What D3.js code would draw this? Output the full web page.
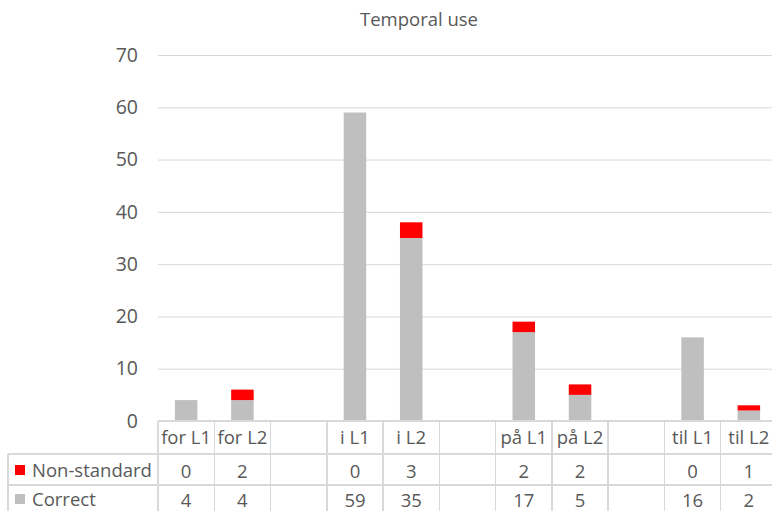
<!DOCTYPE html>
<html><head><meta charset="utf-8">
<script src="https://cdn.jsdelivr.net/npm/d3@7"></script>
<style>body{margin:0;background:#fff}svg{display:block;font-family:"Open Sans",sans-serif}</style>
</head><body>
<svg id="c" width="772" height="511"></svg>
<script>
const title = "Temporal use";
const categories = ["for L1","for L2","","i L1","i L2"," ","på L1","på L2","  ","til L1","til L2"];
const labels = ["for L1","for L2","","i L1","i L2","","på L1","på L2","","til L1","til L2"];
const correct = [4,4,null,59,35,null,17,5,null,16,2];
const nonStandard = [0,2,null,0,3,null,2,2,null,0,1];
const seriesNames = ["Non-standard","Correct"];
const colors = {"Non-standard":"#ff0000","Correct":"#bfbfbf"};
const yTicks = [0,10,20,30,40,50,60,70];

(function(){
const svg = d3.select("#c");
const pL = 158, pR = 777, pT = 55, pB = 421;
const txt = "#595959", grid = "#d9d9d9";
const fs = 18.5;

const x = d3.scaleBand().domain(categories).range([pL,pR]).paddingInner(0.6).paddingOuter(0.3);
const xc = d3.scaleBand().domain(categories).range([pL,pR]).padding(0);
const y = d3.scaleLinear().domain([0,70]).range([pB,pT]);

svg.append("text").attr("x",419).attr("y",26).attr("text-anchor","middle")
  .attr("fill",txt).attr("font-size",fs).text(title);

svg.append("g").selectAll("line").data(yTicks.filter(d=>d>0)).join("line")
  .attr("x1",pL).attr("x2",pR).attr("y1",d=>y(d)+0.5).attr("y2",d=>y(d)+0.5)
  .attr("stroke",grid).attr("stroke-width",1);

const ya = svg.append("g").attr("transform",`translate(${pL},0)`)
  .call(d3.axisLeft(y).tickValues(yTicks).tickSize(0).tickPadding(20));
ya.select(".domain").remove();
ya.selectAll("text").attr("fill",txt).attr("font-size",19.5).attr("font-family","Open Sans");

const data = categories.map((c,i)=>({c, correct:correct[i], ns:nonStandard[i]}));
const g = svg.append("g");
data.filter(d=>d.correct!==null).forEach(d=>{
  g.append("rect").attr("x",x(d.c)).attr("width",x.bandwidth())
   .attr("y",y(d.correct)).attr("height",y(0)-y(d.correct)).attr("fill",colors.Correct);
  if(d.ns>0) g.append("rect").attr("x",x(d.c)).attr("width",x.bandwidth())
   .attr("y",y(d.correct+d.ns)).attr("height",y(d.correct)-y(d.correct+d.ns)).attr("fill",colors["Non-standard"]);
});

const r0 = 421, r1 = 454, r2 = 485, r3 = 513, tl = 8;
const t = svg.append("g").attr("stroke",grid).attr("stroke-width",1.5).attr("shape-rendering","crispEdges");
t.append("line").attr("x1",pL).attr("x2",pR).attr("y1",r0).attr("y2",r0);
[r1,r2].forEach(r=>t.append("line").attr("x1",tl).attr("x2",pR).attr("y1",r).attr("y2",r));
t.append("line").attr("x1",tl).attr("x2",tl).attr("y1",r1).attr("y2",r3);
categories.forEach(c=>t.append("line").attr("x1",xc(c)).attr("x2",xc(c)).attr("y1",r0).attr("y2",r3));

const tt = svg.append("g").attr("fill",txt).attr("font-size",fs).attr("text-anchor","middle");
categories.forEach((c,i)=>{
  const cx = xc(c)+xc.bandwidth()/2;
  tt.append("text").attr("x",cx).attr("y",443.5).text(labels[i]);
  if(nonStandard[i]!==null) tt.append("text").attr("x",cx).attr("y",478).text(nonStandard[i]);
  if(correct[i]!==null) tt.append("text").attr("x",cx).attr("y",507).text(correct[i]);
});
[[seriesNames[0],470],[seriesNames[1],499]].forEach(([n,cy])=>{
  svg.append("rect").attr("x",15).attr("y",cy-5).attr("width",10).attr("height",10).attr("fill",colors[n]);
  svg.append("text").attr("x",32).attr("y",cy+7).attr("fill",txt).attr("font-size",fs).text(n);
});
})();
</script>
</body></html>
